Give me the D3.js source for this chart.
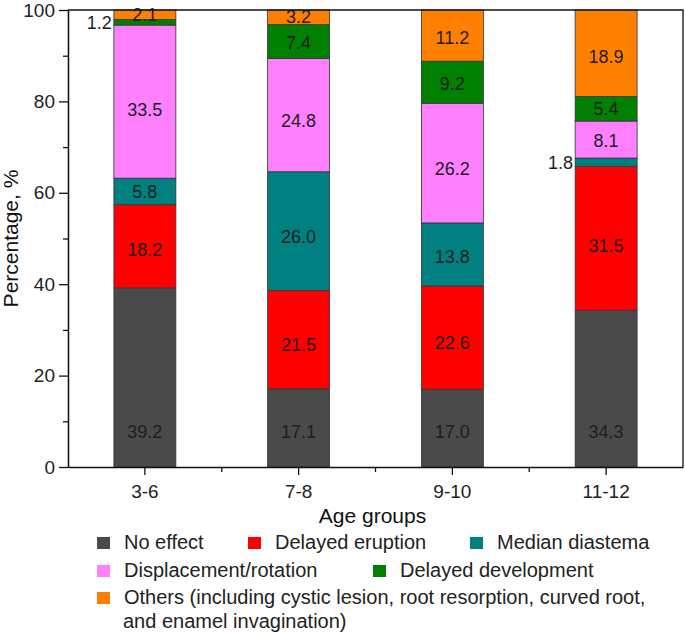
<!DOCTYPE html>
<html>
<head>
<meta charset="utf-8">
<script src="https://cdn.jsdelivr.net/npm/d3@7"></script>
<style>
  html, body { margin: 0; padding: 0; background: #fff; }
  svg { display: block; }
  text { font-family: "Liberation Sans", Arial, sans-serif; }
</style>
</head>
<body>
<svg id="chart" width="685" height="633"></svg>
<script>
// ---- data ----
const categories = ["3-6", "7-8", "9-10", "11-12"];
const seriesNames = ["No effect", "Delayed eruption", "Median diastema",
  "Displacement/rotation", "Delayed development",
  "Others (including cystic lesion, root resorption, curved root,"];
const othersSecondLine = "and enamel invagination)";
const noEffect = [39.2, 17.1, 17.0, 34.3];
const delayedEruption = [18.2, 21.5, 22.6, 31.5];
const medianDiastema = [5.8, 26.0, 13.8, 1.8];
const displacementRotation = [33.5, 24.8, 26.2, 8.1];
const delayedDevelopment = [1.2, 7.4, 9.2, 5.4];
const others = [2.1, 3.2, 11.2, 18.9];
const yTicks = [0, 20, 40, 60, 80, 100];
const yMinorTicks = [10, 30, 50, 70, 90];
const xTitle = "Age groups";
const yTitle = "Percentage, %";

// ---- styles ----
const colors = ["#4a4a4a", "#ff0000", "#008080", "#ff80ff", "#008000", "#ff8000"];

const seriesValues = [noEffect, delayedEruption, medianDiastema,
  displacementRotation, delayedDevelopment, others];
const keys = seriesNames.map((_, i) => "s" + i);
const table = categories.map((c, ci) => {
  const row = { cat: c };
  keys.forEach((k, si) => row[k] = seriesValues[si][ci]);
  return row;
});

const svg = d3.select("#chart");
const pL = 68, pR = 683, pT = 10, pB = 467;

const x = d3.scaleBand().domain(categories).range([pL, pR])
  .paddingInner(0.597).paddingOuter(0.2985);
const y = d3.scaleLinear().domain([0, 100]).range([pB, pT]);

const stacked = d3.stack().keys(keys)(table);

// bars
const gBars = svg.append("g");
stacked.forEach((layer, si) => {
  gBars.selectAll(null).data(layer).enter().append("rect")
    .attr("x", d => x(d.data.cat))
    .attr("width", x.bandwidth())
    .attr("y", d => y(d[1]))
    .attr("height", d => y(d[0]) - y(d[1]))
    .attr("fill", colors[si])
    .attr("stroke", "#333")
    .attr("stroke-width", 0.8);
});

// value labels
const gLab = svg.append("g").attr("font-size", 18).attr("fill", "#1e1e1e");
stacked.forEach((layer, si) => {
  layer.forEach(d => {
    const v = d[1] - d[0];
    const h = y(d[0]) - y(d[1]);
    const mid = y((d[0] + d[1]) / 2);
    const t = gLab.append("text").text(v.toFixed(1)).attr("dominant-baseline", "central");
    if (v < 2) {
      t.attr("x", x(d.data.cat) - 2).attr("y", mid + 1).attr("text-anchor", "end");
    } else if (si === 0) {
      t.attr("x", x(d.data.cat) + x.bandwidth() / 2).attr("y", y(Math.min(v / 2, 7.6)))
        .attr("text-anchor", "middle");
    } else {
      t.attr("x", x(d.data.cat) + x.bandwidth() / 2).attr("y", mid + Math.max(0, 0.06 * h - 1))
        .attr("text-anchor", "middle");
    }
  });
});

// axes
const axisColor = "#111";
svg.append("g").attr("transform", `translate(${pL},0)`)
  .call(d3.axisLeft(y).tickValues(yTicks).tickSize(9).tickSizeOuter(0).tickPadding(4));
svg.append("g").attr("transform", `translate(${pL},0)`)
  .call(d3.axisLeft(y).tickValues(yMinorTicks).tickSize(5).tickSizeOuter(0).tickFormat(""));
svg.append("g").attr("transform", `translate(0,${pB})`)
  .call(d3.axisBottom(x).tickSize(8).tickSizeOuter(0).tickPadding(10));
const mids = categories.slice(0, -1).map((c, i) =>
  (x(c) + x(categories[i + 1]) + x.bandwidth()) / 2);
svg.append("g").selectAll("line").data(mids).enter().append("line")
  .attr("x1", d => d).attr("x2", d => d).attr("y1", pB).attr("y2", pB + 5)
  .attr("stroke", axisColor).attr("stroke-width", 1.3);

svg.selectAll(".domain, .tick line").attr("stroke", axisColor).attr("stroke-width", 1.3);
svg.selectAll(".tick text").attr("font-size", 19).attr("fill", "#222")
  .attr("font-family", "Liberation Sans, Arial, sans-serif");

// frame top & right
svg.append("path").attr("d", `M${pL},${pT}H${pR}V${pB}`)
  .attr("fill", "none").attr("stroke", axisColor).attr("stroke-width", 1.3);

// titles
svg.append("text").text(xTitle).attr("x", (pL + pR) / 2 - 3).attr("y", 523)
  .attr("text-anchor", "middle").attr("font-size", 21).attr("fill", "#111");
svg.append("text").text(yTitle)
  .attr("transform", `translate(18,${(pT + pB) / 2}) rotate(-90)`)
  .attr("text-anchor", "middle").attr("font-size", 21).attr("fill", "#111");

// legend
const legendPos = [[97, 549], [248, 549], [470, 549], [97, 577], [373, 577], [97, 604]];
const gLeg = svg.append("g").attr("font-size", 20).attr("fill", "#222");
seriesNames.forEach((name, i) => {
  const [lx, ly] = legendPos[i];
  gLeg.append("rect").attr("x", lx).attr("y", ly - 12).attr("width", 13).attr("height", 12)
    .attr("fill", colors[i]);
  gLeg.append("text").text(name).attr("x", lx + 27).attr("y", ly);
});
gLeg.append("text").text(othersSecondLine).attr("x", 123).attr("y", 628);
</script>
</body>
</html>
